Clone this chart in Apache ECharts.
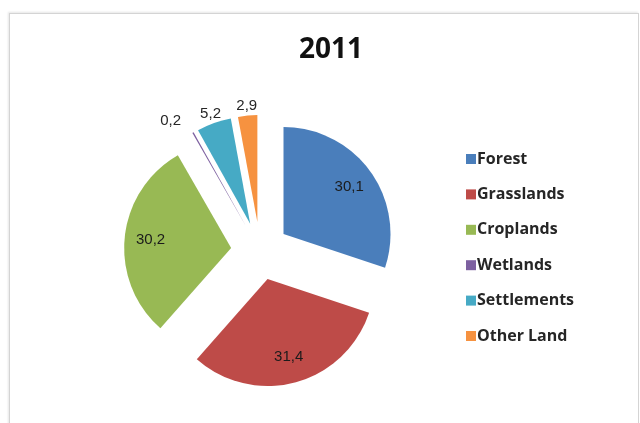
<!DOCTYPE html>
<html>
<head>
<meta charset="utf-8">
<title>2011</title>
<script src="https://cdn.jsdelivr.net/npm/echarts@6/dist/echarts.min.js"></script>
<style>
    html, body { margin: 0; padding: 0; background: #fff; }
    #wrap { position: relative; width: 640px; height: 423px; overflow: hidden; }
    #frame {
        position: absolute; left: 9px; top: 13px; width: 628px; height: 430px;
        border: 1px solid #d4d4d4; box-shadow: -1px -1px 2px #e6e6e6;
    }
    #chart { position: absolute; left: 0; top: 0; width: 640px; height: 423px; }
</style>
</head>
<body>
<div id="wrap">
    <div id="frame"></div>
    <div id="chart"></div>
</div>
<script>
// land use shares, 2011
const categories = ['Forest', 'Grasslands', 'Croplands', 'Wetlands', 'Settlements', 'Other Land'];
const values = [30.1, 31.4, 30.2, 0.2, 5.2, 2.9];
const colors = ['#4a7ebb', '#be4b48', '#98b954', '#7d60a0', '#46aac5', '#f69240'];

const R = 107;          // pie radius
const center = [260, 251];
const explode = 29;     // every slice pulled out
const fmt = v => String(v).replace('.', ',');

const chart = echarts.init(document.getElementById('chart'), null, { renderer: 'canvas' });

// main slices
const pieData = categories.map((name, i) => ({
    name: name,
    value: values[i],
    selected: true,
    itemStyle: { color: colors[i] }
}));

// big slices -> label inside, small ones -> above the slice, tiny one -> outside
const labelKind = v => (v >= 10 ? 'big' : v >= 1 ? 'small' : 'tiny');

// invisible rings only used to place the labels
const labelSeries = (kind) => {
    let radius = [49, R];
    if (kind === 'small') radius = [R, 121];
    if (kind === 'tiny') radius = [R - 1, R];
    return {
        type: 'pie',
        center: center,
        radius: radius,
        startAngle: 90,
        clockwise: true,
        selectedMode: 'multiple',
        selectedOffset: explode,
        silent: true,
        avoidLabelOverlap: false,
        minShowLabelAngle: 0,
        emphasis: { disabled: true },
        label: {
            position: kind === 'tiny' ? 'outside' : 'inside',
            formatter: p => fmt(p.value),
            color: kind === 'big' ? '#1b1b1b' : '#262626',
            fontFamily: 'Liberation Sans',
            fontSize: 15
        },
        labelLine: { show: false, length: 14, length2: 0 },
        data: categories.map((name, i) => ({
            name: name,
            value: values[i],
            selected: true,
            itemStyle: { color: 'rgba(0,0,0,0)' },
            label: { show: labelKind(values[i]) === kind }
        }))
    };
};

const option = {
    animation: false,
    backgroundColor: 'transparent',
    title: {
        text: '2011',
        left: 326,
        top: 31,
        textAlign: 'center',
        textStyle: {
            fontFamily: 'Open Sans',
            fontWeight: 'bold',
            fontSize: 28,
            color: '#111'
        }
    },
    legend: {
        orient: 'vertical',
        left: 461,
        top: 146,
        itemWidth: 10,
        itemHeight: 10,
        itemGap: 19.4,
        icon: 'rect',
        selectedMode: false,
        data: categories,
        textStyle: {
            fontFamily: 'Open Sans',
            fontWeight: 'bold',
            fontSize: 16,
            color: '#262626',
            padding: [0, 0, 0, -4]
        }
    },
    series: [
        {
            type: 'pie',
            center: center,
            radius: R,
            startAngle: 90,
            clockwise: true,
            selectedMode: 'multiple',
            selectedOffset: explode,
            avoidLabelOverlap: false,
            label: { show: false },
            labelLine: { show: false },
            emphasis: { disabled: true },
            data: pieData
        },
        labelSeries('big'),
        labelSeries('small'),
        labelSeries('tiny')
    ]
};

chart.setOption(option);
</script>
</body>
</html>
